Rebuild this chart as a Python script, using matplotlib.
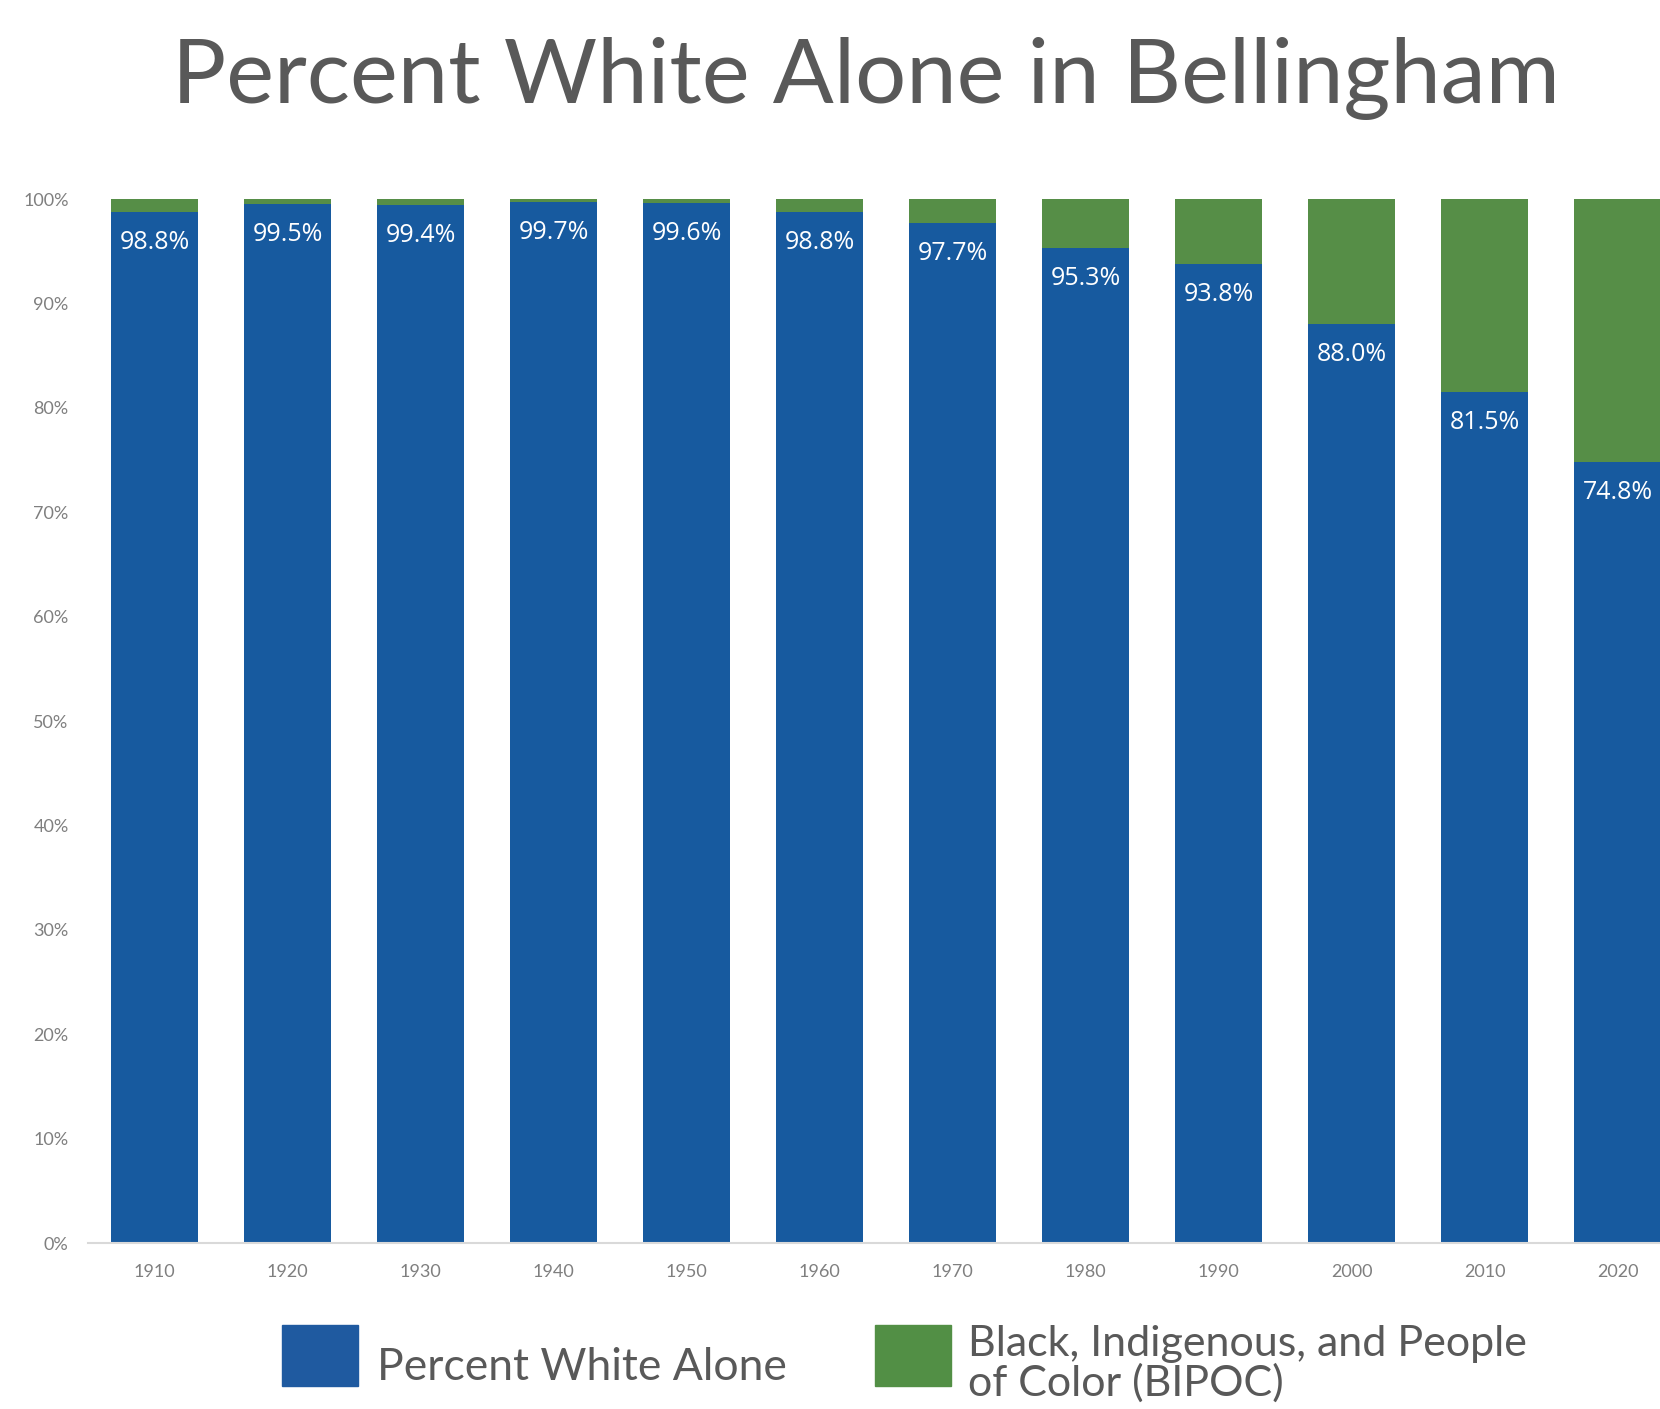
import matplotlib.pyplot as plt
import numpy as np

years = ["1910", "1920", "1930", "1940", "1950", "1960",
         "1970", "1980", "1990", "2000", "2010", "2020"]
white_alone = [98.8, 99.5, 99.4, 99.7, 99.6, 98.8,
               97.7, 95.3, 93.8, 88.0, 81.5, 74.8]
bipoc = [100 - v for v in white_alone]

BLUE = "#175A9F"
GREEN = "#568E47"
GREY = "#595959"

plt.rcParams["font.family"] = ["Lato", "DejaVu Sans"]

fig = plt.figure(figsize=(16.6, 14.09), dpi=100)
ax = fig.add_axes([88 / 1660, 166 / 1409, 1572 / 1660, 1044 / 1409])

x = np.arange(len(years))
w = 0.654
ax.bar(x, white_alone, width=w, color=BLUE, edgecolor="none")
ax.bar(x, bipoc, bottom=white_alone, width=w, color=GREEN, edgecolor="none")

for xi, v in zip(x, white_alone):
    ax.annotate(f"{v:.1f}%", (xi, v), xytext=(0, -13), textcoords="offset points",
                ha="center", va="top", color="white", fontsize=18,
                family=["Open Sans", "DejaVu Sans"])

ax.set_xlim(-0.5, -0.5 + 1572 / 133)
ax.set_ylim(0, 100)
ax.set_xticks(x)
ax.set_xticklabels(years)
ax.set_yticks(np.arange(0, 101, 10))
ax.set_yticklabels([f"{t}%" for t in range(0, 101, 10)])
ax.tick_params(axis="both", length=0, colors="#7F7F7F", labelsize=13)
ax.tick_params(axis="y", pad=14)
ax.tick_params(axis="x", pad=15)
for s in ["top", "right", "left"]:
    ax.spines[s].set_visible(False)
ax.spines["bottom"].set_color("#D9D9D9")
ax.spines["bottom"].set_linewidth(1.5)

fig.text(866 / 1660, 1 - 103 / 1409, "Percent White Alone in Bellingham",
         ha="center", va="baseline", fontsize=65, color=GREY)

# legend
fig.patches.append(plt.Rectangle((282 / 1660, 1 - 1386 / 1409), 76 / 1660, 61 / 1409,
                                 transform=fig.transFigure, color="#1F5AA0"))
fig.patches.append(plt.Rectangle((875 / 1660, 1 - 1386 / 1409), 76 / 1660, 61 / 1409,
                                 transform=fig.transFigure, color="#528F45"))
fig.text(377 / 1660, 1 - 1367 / 1409, "Percent White Alone", ha="left", va="center",
         fontsize=32, color=GREY)
fig.text(968 / 1660, 1 - 1364 / 1409, "Black, Indigenous, and People\nof Color (BIPOC)",
         ha="left", va="center", fontsize=31, color=GREY, linespacing=1.0)

fig.savefig("out.png", dpi=100)
